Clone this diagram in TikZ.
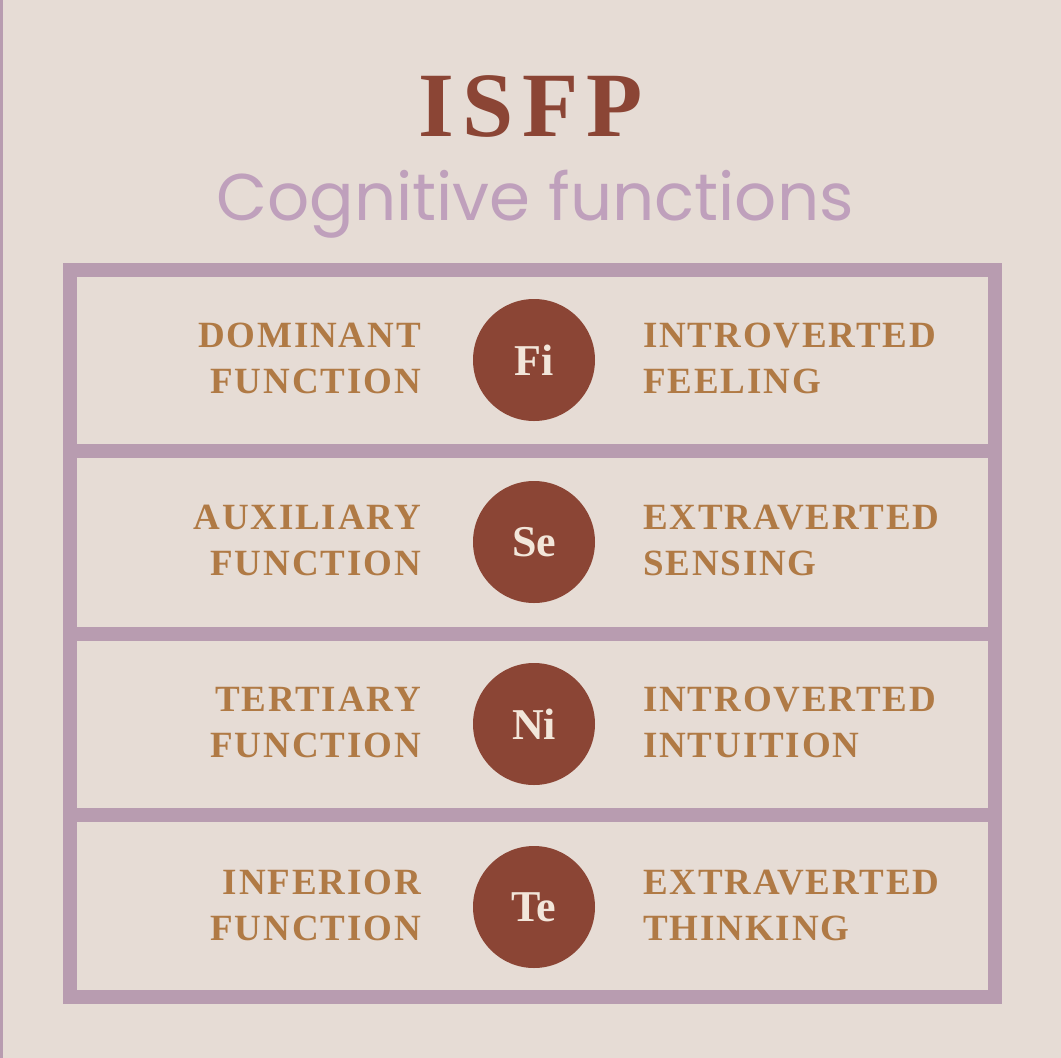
\documentclass[tikz,border=0pt]{standalone}
\usepackage{fontspec}
\setmainfont{Liberation Serif}
\newfontfamily\titlefont[LetterSpace=9]{Liberation Serif}
\newfontfamily\labfont[LetterSpace=5]{Liberation Serif}
\newfontfamily\subfont{Poppins}
\definecolor{bg}{HTML}{E6DCD5}
\definecolor{frame}{HTML}{B89CB0}
\definecolor{rust}{HTML}{8B4535}
\definecolor{tan}{HTML}{B07A45}
\definecolor{cream}{HTML}{F2E6DA}
\definecolor{lilac}{HTML}{BFA0BC}
\begin{document}
\begin{tikzpicture}[x=1pt,y=-1pt,
  lab/.style={font=\labfont\bfseries\fontsize{37}{46}\selectfont,text=tan,align=left,inner sep=0pt},
  labl/.style={lab,align=right,anchor=east},
  labr/.style={lab,anchor=west},
  fn/.style={circle,fill=rust,minimum size=122pt,inner sep=0pt,text=cream,font=\bfseries\fontsize{44}{44}\selectfont}]
\fill[bg] (0,0) rectangle (1061,1058);
\fill[frame] (0,0) rectangle (3,1058);
\node[font=\titlefont\bfseries\fontsize{92}{92}\selectfont,text=rust] (title) at (531,106) {ISFP};
\node[font=\subfont\fontsize{66}{66}\selectfont,text=lilac] (sub) at (535,204) {Cognitive functions};
\draw[frame,line width=14pt] (70,270) rectangle (995,997);
\foreach \y in {451,634,815} \draw[frame,line width=14pt] (63,\y) -- (1002,\y);
\foreach \y/\c/\l/\r [count=\i] in {
  358/Fi/{DOMINANT\\FUNCTION}/{INTROVERTED\\FEELING},
  540/Se/{AUXILIARY\\FUNCTION}/{EXTRAVERTED\\SENSING},
  722/Ni/{TERTIARY\\FUNCTION}/{INTROVERTED\\INTUITION},
  905/Te/{INFERIOR\\FUNCTION}/{EXTRAVERTED\\THINKING}}{
  \node[fn] (c\i) at (534,\y+2) {\c};
  \node[labl] (l\i) at (421,\y) {\l};
  \node[labr] (r\i) at (643,\y) {\r};
}
\end{tikzpicture}
\end{document}
